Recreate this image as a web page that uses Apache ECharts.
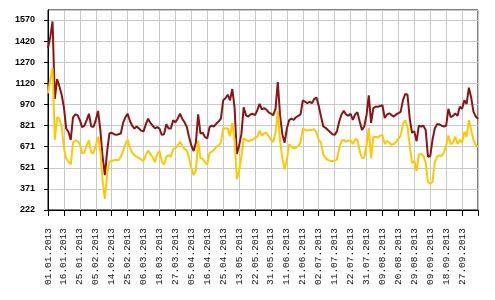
<!DOCTYPE html>
<html>
<head>
<meta charset="utf-8">
<script src="https://cdn.jsdelivr.net/npm/echarts@6/dist/echarts.min.js"></script>
<style>html,body{margin:0;padding:0;background:#fff;}#chart{width:495px;height:300px;}</style>
</head>
<body>
<div id="chart"></div>
<script>
// Trading days (DD.MM), 2013
const dayMonth = [
'01.01','08.01','09.01','10.01','11.01','14.01','15.01','16.01','17.01','18.01',
'21.01','22.01','23.01','24.01','25.01','28.01','29.01','30.01','31.01','01.02',
'04.02','05.02','06.02','07.02','08.02','11.02','12.02','13.02','14.02','15.02',
'18.02','19.02','20.02','21.02','22.02','25.02','26.02','27.02','28.02','01.03',
'04.03','05.03','06.03','07.03','11.03','12.03','13.03','14.03','15.03','18.03',
'19.03','20.03','21.03','22.03','25.03','26.03','27.03','28.03','29.03','01.04',
'02.04','03.04','04.04','05.04','08.04','09.04','10.04','11.04','12.04','15.04',
'16.04','17.04','18.04','19.04','22.04','23.04','24.04','25.04','26.04','29.04',
'30.04','06.05','07.05','08.05','13.05','14.05','15.05','16.05','17.05','20.05',
'21.05','22.05','23.05','24.05','27.05','28.05','29.05','30.05','31.05','03.06',
'04.06','05.06','06.06','07.06','10.06','11.06','13.06','14.06','17.06','18.06',
'19.06','20.06','21.06','24.06','25.06','26.06','27.06','28.06','01.07','02.07',
'03.07','04.07','05.07','08.07','09.07','10.07','11.07','12.07','15.07','16.07',
'17.07','18.07','19.07','22.07','23.07','24.07','25.07','26.07','29.07','30.07',
'31.07','01.08','02.08','05.08','06.08','07.08','08.08','09.08','12.08','13.08',
'14.08','15.08','16.08','19.08','20.08','21.08','22.08','23.08','26.08','27.08',
'28.08','29.08','30.08','02.09','03.09','04.09','05.09','06.09','09.09','10.09',
'11.09','12.09','13.09','16.09','17.09','18.09','19.09','20.09','23.09','24.09',
'25.09','26.09','27.09','30.09','01.10','02.10','03.10','04.10','07.10','08.10'
];
const year = '2013';
const categories = dayMonth.map(d => d + '.' + year);

const seriesHigh = [
1370,1450,1560,1010,1150,1100,1040,950,800,775,
720,880,900,895,860,810,820,860,905,815,
812,860,925,790,600,470,640,765,770,760,
755,760,765,840,880,905,855,820,800,815,
800,785,780,830,870,840,820,802,810,800,
755,760,830,800,800,858,845,870,905,870,
845,812,740,680,640,700,900,765,770,740,
730,810,820,815,835,850,870,1000,1015,1040,
1000,1080,950,620,680,760,950,895,885,900,
905,895,930,975,935,945,935,915,905,895,
940,1130,895,760,700,800,860,870,862,880,
890,900,1000,990,980,990,980,1010,1020,960,
885,815,805,790,775,760,755,780,850,900,
925,900,890,905,862,900,915,850,790,815,
895,1035,840,945,955,955,960,965,875,900,
908,895,885,900,910,918,1000,1045,1040,870,
770,780,710,820,815,820,790,600,605,720,
800,830,830,820,815,820,940,880,890,908,
890,955,940,1000,975,1090,1020,920,885,870
];

const seriesLow = [
1050,1150,1230,720,880,870,815,660,590,565,
545,700,715,710,690,625,630,680,715,630,
625,680,740,640,430,300,480,565,570,575,
578,575,600,640,690,720,665,630,610,600,
590,580,570,610,645,620,595,560,620,640,
570,545,600,610,600,655,660,680,707,680,
655,645,590,520,470,500,715,590,585,560,
545,625,636,650,670,680,700,800,802,800,
745,840,720,440,500,600,730,720,710,715,
720,735,740,785,750,765,770,745,720,705,
770,925,715,590,510,580,690,670,660,665,
675,700,800,790,785,790,790,795,770,720,
700,615,590,578,570,570,572,580,660,710,
720,705,715,715,690,725,720,640,590,595,
680,805,590,740,742,735,750,755,690,712,
700,685,690,705,725,750,830,858,810,680,
555,570,500,615,620,605,560,420,410,420,
560,600,610,605,630,680,750,690,700,742,
690,720,700,778,740,860,790,720,680,670
];

const yTickLabels = ['222','371','521','671','821','970','1120','1270','1420','1570'];
const yMin = 222;
const yTop = 1570;
const yInterval = (yTop - yMin) / (yTickLabels.length - 1);
const yMax = 1641;

const chart = echarts.init(document.getElementById('chart'), null, {renderer: 'canvas'});
chart.setOption({
  animation: false,
  backgroundColor: '#ffffff',
  grid: {left: 48, right: 17, top: 10, bottom: 90, show: true, borderColor: '#000', borderWidth: 1, backgroundColor: 'transparent'},
  xAxis: {
    type: 'category',
    data: categories,
    boundaryGap: false,
    axisLine: {show: true, lineStyle: {color: '#000', width: 1}},
    axisTick: {show: true, interval: 6, length: 6, lineStyle: {color: '#000'}},
    axisLabel: {
      interval: 6, rotate: 90, margin: 18,
      fontFamily: 'Liberation Mono', fontSize: 9.5, color: '#111',
      formatter: function (v, i) { return i === categories.length - 1 ? '' : v; }
    },
    splitLine: {show: true, interval: 6, lineStyle: {color: '#c8c8c8', width: 1}}
  },
  yAxis: {
    type: 'value',
    min: yMin, max: yMax, interval: yInterval,
    axisLine: {show: true, lineStyle: {color: '#000', width: 1}},
    axisTick: {show: true, length: 4, lineStyle: {color: '#000'}},
    axisLabel: {
      margin: 13, fontFamily: 'Liberation Sans', fontWeight: 'bold', fontSize: 9, color: '#000',
      showMaxLabel: false,
      formatter: function (v) {
        const k = Math.round((v - yMin) / yInterval);
        return (k >= 0 && k < yTickLabels.length && Math.abs(v - (yMin + k * yInterval)) < 1) ? yTickLabels[k] : '';
      }
    },
    splitLine: {show: true, lineStyle: {color: '#c8c8c8', width: 1}}
  },
  series: [
    {type: 'line', data: seriesHigh, showSymbol: false, lineStyle: {color: '#8c1414', width: 2}, itemStyle: {color: '#8c1414'}},
    {type: 'line', data: seriesLow, showSymbol: false, lineStyle: {color: '#ffc800', width: 2}, itemStyle: {color: '#ffc800'}}
  ]
});
</script>
</body>
</html>
